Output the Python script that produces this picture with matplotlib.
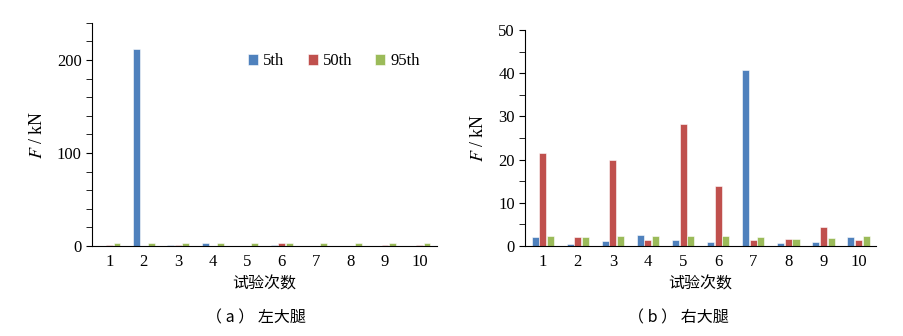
import numpy as np
import matplotlib
matplotlib.use('Agg')
import matplotlib.pyplot as plt
from matplotlib.ticker import MultipleLocator

plt.rcParams['font.family'] = ['Liberation Serif', 'Noto Sans CJK SC']
plt.rcParams['mathtext.fontset'] = 'stix'

trials = list(range(1, 11))
series = ['5th', '50th', '95th']
colors = ['#4F81BD', '#C0504D', '#9BBB59']

# left thigh
left_5 = [0.2, 212, 0.6, 3.2, 0.1, 1.0, 0.1, 0.1, 0.2, 0.2]
left_50 = [0.6, 0.1, 0.9, 0.2, 0.1, 3.0, 0.1, 0.1, 0.6, 0.8]
left_95 = [3.2, 2.8, 2.8, 3.2, 2.8, 3.2, 3.7, 2.8, 3.2, 3.2]

# right thigh
right_5 = [2.0, 0.5, 1.1, 2.6, 1.4, 1.0, 40.7, 0.6, 1.0, 2.1]
right_50 = [21.6, 2.0, 19.8, 1.3, 28.3, 13.8, 1.3, 1.7, 4.3, 1.3]
right_95 = [2.3, 2.1, 2.3, 2.2, 2.3, 2.2, 2.0, 1.6, 1.9, 2.2]

fig = plt.figure(figsize=(9.04, 3.36), dpi=100)
ax1 = fig.add_axes([0.102, 0.268, 0.381, 0.664])
ax2 = fig.add_axes([0.581, 0.268, 0.388, 0.643])

x = np.array(trials)
w = 0.2
offs = [-0.22, 0, 0.22]

def draw(ax, data, ymax, major, minor):
    for d, o, c, s in zip(data, offs, colors, series):
        ax.bar(x + o, d, width=w, color=c, edgecolor='white', linewidth=0.4, label=s)
    ax.set_xlim(0.5, 10.5)
    ax.set_ylim(0, ymax)
    ax.yaxis.set_major_locator(MultipleLocator(major))
    ax.yaxis.set_minor_locator(MultipleLocator(minor))
    ax.set_xticks(trials)
    ax.tick_params(axis='x', length=0, labelsize=12, pad=6)
    ax.tick_params(axis='y', which='major', length=4, labelsize=12, direction='out')
    ax.tick_params(axis='y', which='minor', length=4, direction='out')
    for sp in ['top', 'right']:
        ax.spines[sp].set_visible(False)
    ax.set_xlabel('试验次数', fontsize=11.5, family=['Noto Sans CJK SC'], labelpad=4)
    ax.set_ylabel('$F$ / kN', fontsize=13, labelpad=8)

draw(ax1, [left_5, left_50, left_95], 240, 100, 20)
draw(ax2, [right_5, right_50, right_95], 50, 10, 5)

ax1.legend(loc='upper right', ncol=3, frameon=False, fontsize=12,
           handlelength=0.6, handleheight=0.6, handletextpad=0.3,
           columnspacing=1.4, bbox_to_anchor=(0.995, 0.93))

fig.text(0.283, 0.055, '（ a ） 左大腿', ha='center', va='center', fontsize=11.5,
         family=['Noto Sans CJK SC'])
fig.text(0.750, 0.055, '（ b ） 右大腿', ha='center', va='center', fontsize=11.5,
         family=['Noto Sans CJK SC'])

fig.savefig('out.png', dpi=100)
